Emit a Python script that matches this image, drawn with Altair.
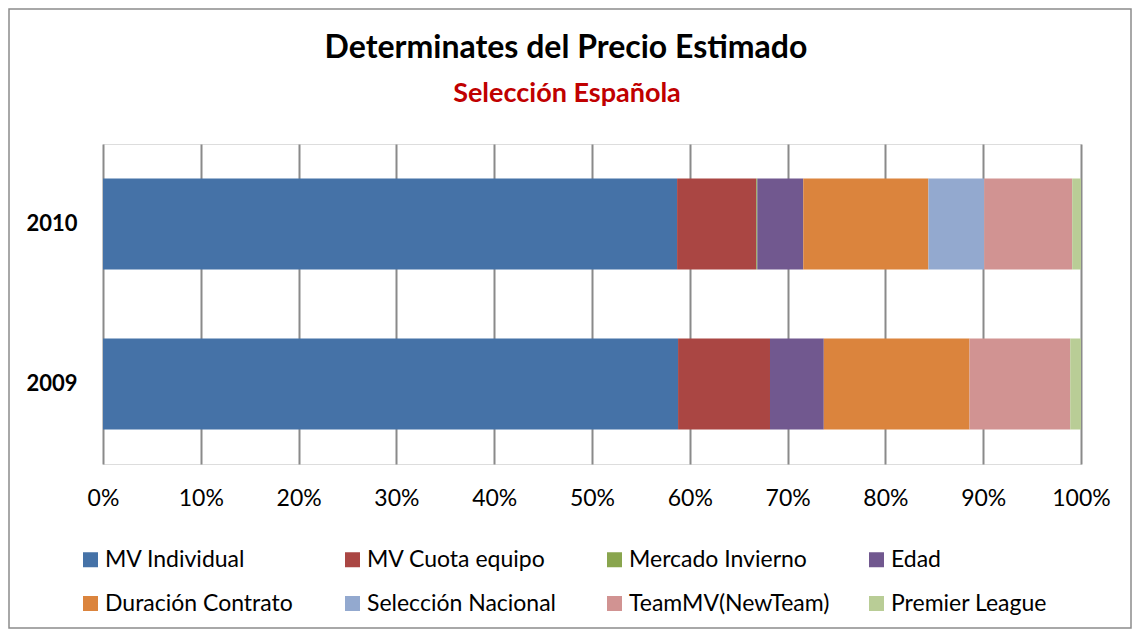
import altair as alt
import pandas as pd

title_text = ["Determinates del Precio Estimado"]
subtitle_text = ["Selección Española"]
years = ["2010", "2009"]
factors = ["MV Individual", "MV Cuota equipo", "Mercado Invierno", "Edad",
           "Duración Contrato", "Selección Nacional", "TeamMV(NewTeam)", "Premier League"]
colors = ["#4572A7", "#AA4643", "#89A54E", "#71588F",
          "#DB843D", "#93A9CF", "#D19392", "#B9CD96"]
vals_2010 = [58.7, 8.1, 0.1, 4.7, 12.8, 5.7, 9.0, 0.9]
vals_2009 = [58.8, 9.4, 0.0, 5.5, 14.9, 0.0, 10.3, 1.1]
tick_values = [0, 0.1, 0.2, 0.3, 0.4, 0.5, 0.6, 0.7, 0.8, 0.9, 1.0]

rows = []
for yr, vals in zip(years, [vals_2010, vals_2009]):
    for i, (f, v) in enumerate(zip(factors, vals)):
        rows.append({"Año": yr, "Factor": f, "Valor": v, "idx": i})
df = pd.DataFrame(rows)

FONT = "Lato"

bars = alt.Chart(df).mark_bar(size=91).encode(
    y=alt.Y("Año:N", sort=years, title=None,
            scale=alt.Scale(paddingInner=0.431, paddingOuter=0.2156),
            axis=alt.Axis(labelFontSize=22, labelFontWeight="bold", labelColor="black",
                          labelFont=FONT, ticks=False, domain=False, labelPadding=26,
                          grid=False)),
    x=alt.X("Valor:Q", stack="normalize", title=None,
            scale=alt.Scale(domain=[0, 1]),
            axis=alt.Axis(values=tick_values, format=".0%", labelFontSize=23,
                          labelColor="black", labelFont=FONT, ticks=False, domain=False,
                          labelFlush=False, labelOverlap=False,
                          grid=True, gridColor="#8a8a8a", gridWidth=2, labelPadding=23)),
    color=alt.Color("Factor:N", sort=factors,
                    scale=alt.Scale(domain=factors, range=colors),
                    legend=alt.Legend(title=None, orient="none", legendX=-24, legendY=404,
                                      direction="horizontal", columns=4, gridAlign="all",
                                      padding=0, symbolType="square", symbolSize=225,
                                      symbolStrokeWidth=0,
                                      labelFontSize=23, labelFont=FONT, labelColor="black",
                                      labelOffset=3, columnPadding=35, rowPadding=20,
                                      labelLimit=400)),
    order=alt.Order("idx:Q", sort="ascending"),
)

title = alt.Chart(pd.DataFrame({"t": title_text})).mark_text(
    font=FONT, fontSize=32, fontWeight="bold", color="black",
    align="center", baseline="alphabetic"
).encode(text="t:N", x=alt.value(463), y=alt.value(-86))

subtitle = alt.Chart(pd.DataFrame({"t": subtitle_text})).mark_text(
    font=FONT, fontSize=27, fontWeight="bold", color="#C00000",
    align="center", baseline="alphabetic"
).encode(text="t:N", x=alt.value(464), y=alt.value(-42))

border = alt.Chart(pd.DataFrame({"b": [0]})).mark_rect(
    fill=None, stroke="#8c8c8c", strokeWidth=1.5
).encode(x=alt.value(-94), x2=alt.value(1028), y=alt.value(-135), y2=alt.value(484))

chart = alt.layer(bars, title, subtitle, border).properties(
    width=978, height=320,
    padding={"left": 95, "top": 136, "right": 51, "bottom": 165},
    autosize=alt.AutoSizeParams(type="none"),
).configure_view(stroke=None).configure(background="white")

chart.save("out.html", embed_options={"renderer": "svg", "actions": False})
